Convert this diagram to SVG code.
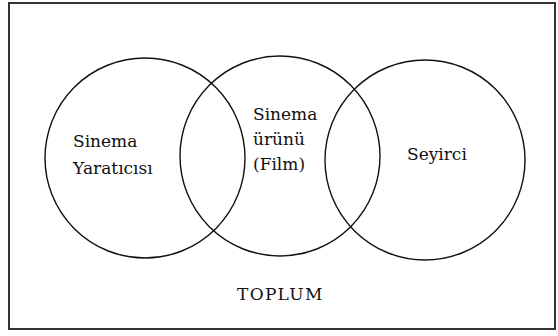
<svg xmlns="http://www.w3.org/2000/svg" width="558" height="336" viewBox="0 0 558 336">
<style>
.c{fill:none;stroke:#111;stroke-width:1.4}
.t{font-family:'DejaVu Serif',serif;font-size:17px;fill:#111}
</style>
<rect x="0" y="0" width="558" height="336" fill="#fff"/>
<rect x="9" y="3" width="546" height="326" fill="none" stroke="#333" stroke-width="2"/>
<g id="creator">
<circle class="c" cx="145" cy="158" r="100"/>
<text class="t" x="73" y="147">Sinema</text>
<text class="t" x="73" y="174">Yaratıcısı</text>
</g>
<g id="film">
<circle class="c" cx="280" cy="156" r="100"/>
<text class="t" x="253" y="120">Sinema</text>
<text class="t" x="253" y="145">ürünü</text>
<text class="t" x="253" y="170">(Film)</text>
</g>
<g id="audience">
<circle class="c" cx="425" cy="160" r="100"/>
<text class="t" x="407" y="160">Seyirci</text>
</g>
<g id="society">
<text class="t" x="237" y="300" letter-spacing="1.3">TOPLUM</text>
</g>
<g id="connectors"></g>
</svg>
